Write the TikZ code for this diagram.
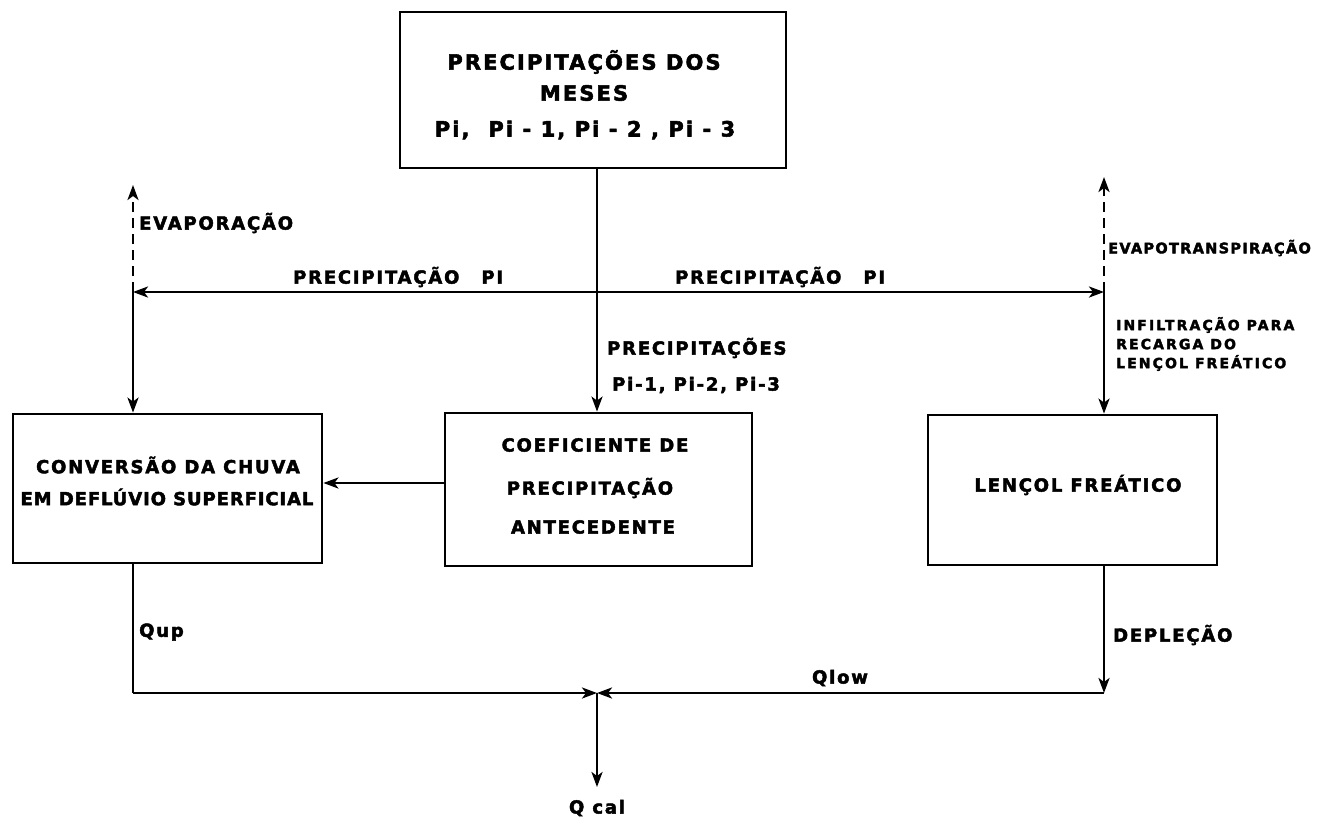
\documentclass[tikz,border=0pt]{standalone}
\usepackage{fontspec}
\setmainfont{DejaVu Sans}
\newfontfamily\lblfont{DejaVu Sans}[LetterSpace=10, FakeBold=2.5]
\newfontfamily\tightfont{DejaVu Sans}[LetterSpace=5, FakeBold=2.5]
\newfontfamily\smallfont{DejaVu Sans}[LetterSpace=15, FakeBold=2.5]
\newfontfamily\evtfont{DejaVu Sans}[LetterSpace=9, FakeBold=2.5]
\usetikzlibrary{arrows.meta}
\tikzset{
  box/.style={draw, line width=2.8pt, inner sep=0pt, rectangle},
  conn/.style={line width=2.5pt},
  arr/.style={conn, -{Stealth[length=15pt,width=11pt,inset=4pt]}},
  dashconn/.style={arr, dash pattern=on 10pt off 6pt},
  lbl/.style={inner sep=0pt, font=\lblfont\bfseries\fontsize{18}{22}\selectfont},
  toplbl/.style={inner sep=0pt, font=\lblfont\bfseries\fontsize{21}{24}\selectfont},
  slbl/.style={inner sep=0pt, align=left, font=\smallfont\bfseries\fontsize{14}{19}\selectfont},
}
\begin{document}
\begin{tikzpicture}[x=1pt,y=-1pt]
\useasboundingbox (0,0) rectangle (1325,820);
% boxes
\node[box, minimum width=386pt, minimum height=156pt] (top) at (593,90) {};
\node[box, minimum width=309pt, minimum height=149pt] (left) at (167.5,488.5) {};
\node[box, minimum width=307pt, minimum height=153pt] (mid) at (598.5,489.5) {};
\node[box, minimum width=289pt, minimum height=150pt] (right) at (1072.5,490) {};
% box texts
\node[toplbl] (t1) at (584,62) {PRECIPITAÇÕES DOS};
\node[toplbl] (t2) at (584,93) {MESES};
\node[toplbl] (t3) at (585,130) {Pi,\ \ Pi - 1,\ Pi - 2 , Pi - 3};
\node[lbl] (l1) at (168,465) {CONVERSÃO DA CHUVA};
\node[font=\tightfont\bfseries\fontsize{18}{22}\selectfont, inner sep=0pt] (l2) at (167,497) {EM DEFLÚVIO SUPERFICIAL};
\node[lbl] (m1) at (595,445) {COEFICIENTE DE};
\node[lbl] (m2) at (590,488) {PRECIPITAÇÃO};
\node[lbl] (m3) at (593,527) {ANTECEDENTE};
\node[lbl] (r1) at (1078,485) {LENÇOL FREÁTICO};
% coordinates
\coordinate (hc) at (597,292);
\coordinate (hl) at (133,292);
\coordinate (hr) at (1104,292);
\coordinate (evl) at (133,185);
\coordinate (evr) at (1104,177);
\coordinate (ya) at (0,483);
\coordinate (jn) at (597,693);
\coordinate (bl) at (133,693);
\coordinate (br) at (1104,693);
\coordinate (qc) at (597,787);
% connectors
\draw[conn] (top.south -| hc) -- (hc);
\draw[arr] (hc) -- (mid.north -| hc);
\draw[arr] (hc) -- (hl);
\draw[arr] (hc) -- (hr);
\draw[dashconn] (hl) -- (evl);
\draw[dashconn] (hr) -- (evr);
\draw[arr] (hl) -- (left.north -| hl);
\draw[arr] (hr) -- (right.north -| hr);
\draw[arr] (mid.west |- ya) -- (left.east |- ya);
\draw[conn] (left.south -| bl) -- (bl);
\draw[arr] (bl) -- (jn);
\draw[arr] (right.south -| br) -- (br);
\draw[arr] (br) -- (jn);
\draw[arr] (jn) -- (qc);
% labels
\node[lbl, anchor=west] (ev) at (139,223) {EVAPORAÇÃO};
\node[lbl, anchor=west] (pl) at (293,277) {PRECIPITAÇÃO\hspace{22pt}PI};
\node[lbl, anchor=west] (pr) at (675,277) {PRECIPITAÇÃO\hspace{22pt}PI};
\node[inner sep=0pt, anchor=west, font=\evtfont\bfseries\fontsize{14.5}{18}\selectfont] (evt) at (1108,248) {EVAPOTRANSPIRAÇÃO};
\node[slbl, anchor=west] (inf) at (1116,344) {INFILTRAÇÃO PARA\\RECARGA DO\\LENÇOL FREÁTICO};
\node[lbl, anchor=west] (pc1) at (607,348) {PRECIPITAÇÕES};
\node[lbl, anchor=west] (pc2) at (612,385) {Pi-1,\ Pi-2,\ Pi-3};
\node[lbl, anchor=west] (qup) at (139,632) {Qup};
\node[lbl, anchor=west] (dep) at (1113,635) {DEPLEÇÃO};
\node[lbl] (qlow) at (840,678) {Qlow};
\node[lbl] (qcal) at (597,808) {Q cal};
\end{tikzpicture}
\end{document}
